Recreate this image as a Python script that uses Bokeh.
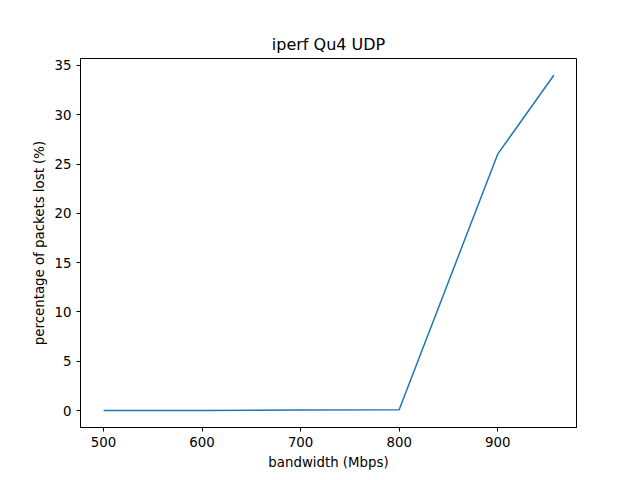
from bokeh.embed import file_html
from bokeh.resources import INLINE
from bokeh.models import Range1d, FixedTicker
from bokeh.plotting import figure

bandwidth = [500, 600, 700, 800, 900, 957]
loss = [0.0, 0.01, 0.05, 0.08, 26.0, 34.0]

p = figure(width=640, height=480, output_backend="svg", toolbar_location=None,
           title="iperf Qu4 UDP", x_range=Range1d(476.6, 980), y_range=Range1d(-1.72, 35.7),
           min_border_left=80, min_border_right=64, min_border_top=58, min_border_bottom=53)
p.line(bandwidth, loss, line_color="#1f77b4", line_width=1.5)

p.title.align = "center"
p.title.text_font = "DejaVu Sans"
p.title.text_font_size = "12pt"
p.title.text_font_style = "normal"
p.title.text_color = "black"
p.xaxis.axis_label = "bandwidth (Mbps)"
p.yaxis.axis_label = "percentage of packets lost (%)"
p.xaxis.ticker = FixedTicker(ticks=[500, 600, 700, 800, 900])
p.yaxis.ticker = FixedTicker(ticks=[0, 5, 10, 15, 20, 25, 30, 35])
for ax in (p.xaxis, p.yaxis):
    ax.axis_label_text_font = "DejaVu Sans"
    ax.axis_label_text_font_style = "normal"
    ax.axis_label_text_font_size = "10pt"
    ax.axis_label_text_color = "black"
    ax.major_label_text_font = "DejaVu Sans"
    ax.major_label_text_font_size = "10pt"
    ax.major_label_text_color = "black"
    ax.axis_line_color = "black"
    ax.major_tick_line_color = "black"
    ax.minor_tick_line_color = None
    ax.major_tick_out = 4
    ax.major_tick_in = 0
p.xgrid.grid_line_color = None
p.ygrid.grid_line_color = None
p.outline_line_color = "black"

open("out.html", "w").write(file_html(p, INLINE))
